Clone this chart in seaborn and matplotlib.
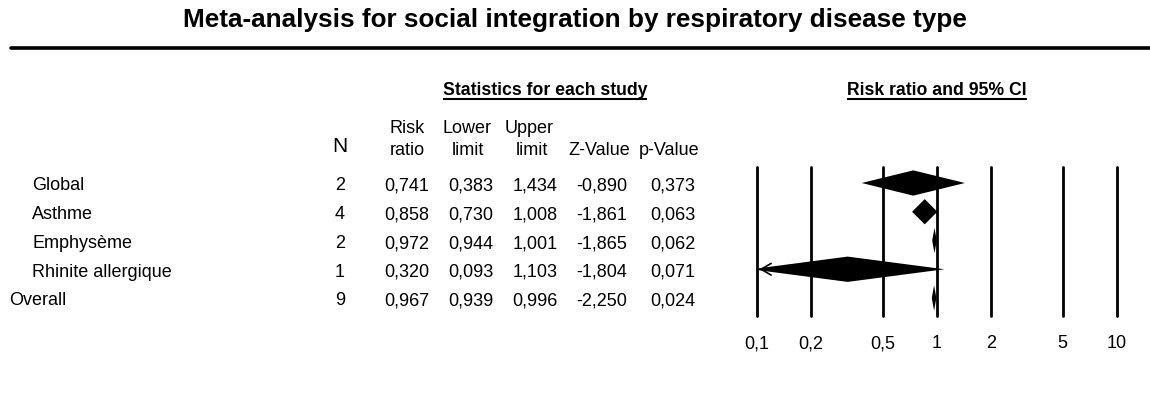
import matplotlib
matplotlib.use("Agg")
import matplotlib.pyplot as plt
import seaborn as sns
import numpy as np

# ---------------- data ----------------
groups = ["Global", "Asthme", "Emphysème", "Rhinite allergique", "Overall"]
n_studies = [2, 4, 2, 1, 9]
risk_ratio = [0.741, 0.858, 0.972, 0.320, 0.967]
lower_limit = [0.383, 0.730, 0.944, 0.093, 0.939]
upper_limit = [1.434, 1.008, 1.001, 1.103, 0.996]
z_value = [-0.890, -1.861, -1.865, -1.804, -2.250]
p_value = [0.373, 0.063, 0.062, 0.071, 0.024]
axis_ticks = [0.1, 0.2, 0.5, 1, 2, 5, 10]
axis_tick_labels = ["0,1", "0,2", "0,5", "1", "2", "5", "10"]

title = "Meta-analysis for social integration by respiratory disease type"

# ---------------- style ----------------
sns.set_theme(style="white")
plt.rcParams["font.family"] = ["Liberation Sans", "DejaVu Sans"]
plt.rcParams["text.color"] = "black"

W, H = 1150, 414
fig = plt.figure(figsize=(W / 100, H / 100), dpi=100)
fig.patch.set_facecolor("white")

# background axes in pixel coordinates for the table text
bg = fig.add_axes([0, 0, 1, 1])
bg.set_xlim(0, W)
bg.set_ylim(H, 0)
bg.axis("off")

FS = 13


def fmt(v):
    return f"{v:.3f}".replace(".", ",")


# title and thick rule
bg.text(575, 27.5, title, ha="center", va="baseline", fontsize=18.8, fontweight="bold")
bg.axhline(48.5, xmin=11 / W, xmax=1, color="black", lw=2.6)

# section headings with underline
fig.canvas.draw()
renderer = fig.canvas.get_renderer()
inv = bg.transData.inverted()
for txt, cx in [("Statistics for each study", 545), ("Risk ratio and 95% CI", 937)]:
    t = bg.text(cx, 95, txt, ha="center", va="baseline", fontsize=12.7, fontweight="bold")
    bb = t.get_window_extent(renderer=renderer)
    (x0, _), (x1, _) = inv.transform([[bb.x0, 0], [bb.x1, 0]])
    bg.plot([x0, x1], [99.8, 99.8], color="black", lw=1.5, solid_capstyle="butt")

# column headers
bg.text(340, 152, "N", ha="center", va="baseline", fontsize=15)
hdr_top = [("Risk", 407), ("Lower", 467), ("Upper", 529)]
hdr_bot = [("ratio", 407), ("limit", 468), ("limit", 532), ("Z-Value", 599), ("p-Value", 669)]
for txt, cx in hdr_top:
    bg.text(cx, 133, txt, ha="center", va="baseline", fontsize=FS)
for txt, cx in hdr_bot:
    bg.text(cx, 155, txt, ha="center", va="baseline", fontsize=FS)

# table rows
row_y = [184, 213, 242, 270.5, 299]
col_x = {"n": 340, "rr": 407, "ll": 471, "ul": 535, "z": 602, "p": 673}
for i, g in enumerate(groups):
    yb = row_y[i] + 6.5
    lx = 9 if g == "Overall" else 32
    bg.text(lx, yb, g, ha="left", va="baseline", fontsize=FS)
    bg.text(col_x["n"], yb, str(n_studies[i]), ha="center", va="baseline", fontsize=FS)
    bg.text(col_x["rr"], yb, fmt(risk_ratio[i]), ha="center", va="baseline", fontsize=FS)
    bg.text(col_x["ll"], yb, fmt(lower_limit[i]), ha="center", va="baseline", fontsize=FS)
    bg.text(col_x["ul"], yb, fmt(upper_limit[i]), ha="center", va="baseline", fontsize=FS)
    bg.text(col_x["z"], yb, fmt(z_value[i]), ha="center", va="baseline", fontsize=FS)
    bg.text(col_x["p"], yb, fmt(p_value[i]), ha="center", va="baseline", fontsize=FS)

# ---------------- forest plot ----------------
left_px, right_px = 756.7, 1116.7
top_px, bot_px = 168, 317
ax = fig.add_axes([left_px / W, 1 - bot_px / H, (right_px - left_px) / W, (bot_px - top_px) / H])
ax.set_xscale("log")
ax.set_xlim(0.1, 10)
row_step = 28.75
ax.set_ylim((bot_px - row_y[0]) / row_step, (top_px - row_y[0]) / row_step)
ax.patch.set_alpha(0)
for s in ax.spines.values():
    s.set_visible(False)

for v in axis_ticks:
    ax.axvline(v, color="black", lw=2.0, clip_on=False, zorder=1)

half_h = 0.44
for i in range(len(groups)):
    xs = [lower_limit[i], risk_ratio[i], upper_limit[i], risk_ratio[i]]
    ys = [i, i - half_h, i, i + half_h]
    ax.fill(xs, ys, color="black", lw=0, zorder=3)
    if lower_limit[i] < axis_ticks[0]:
        ax.annotate("", xy=(axis_ticks[0], i), xytext=(0.13, i),
                    arrowprops=dict(arrowstyle="->,head_length=0.6,head_width=0.35",
                                    lw=1.2, color="black"), zorder=4)

ax.set_xticks(axis_ticks)
ax.set_xticklabels(axis_tick_labels, fontsize=FS)
ax.xaxis.set_minor_locator(matplotlib.ticker.NullLocator())
ax.tick_params(axis="x", length=0, pad=13, labelcolor="black")
ax.set_yticks([])
ax.grid(False)

fig.savefig("out.png", dpi=100, facecolor="white")
